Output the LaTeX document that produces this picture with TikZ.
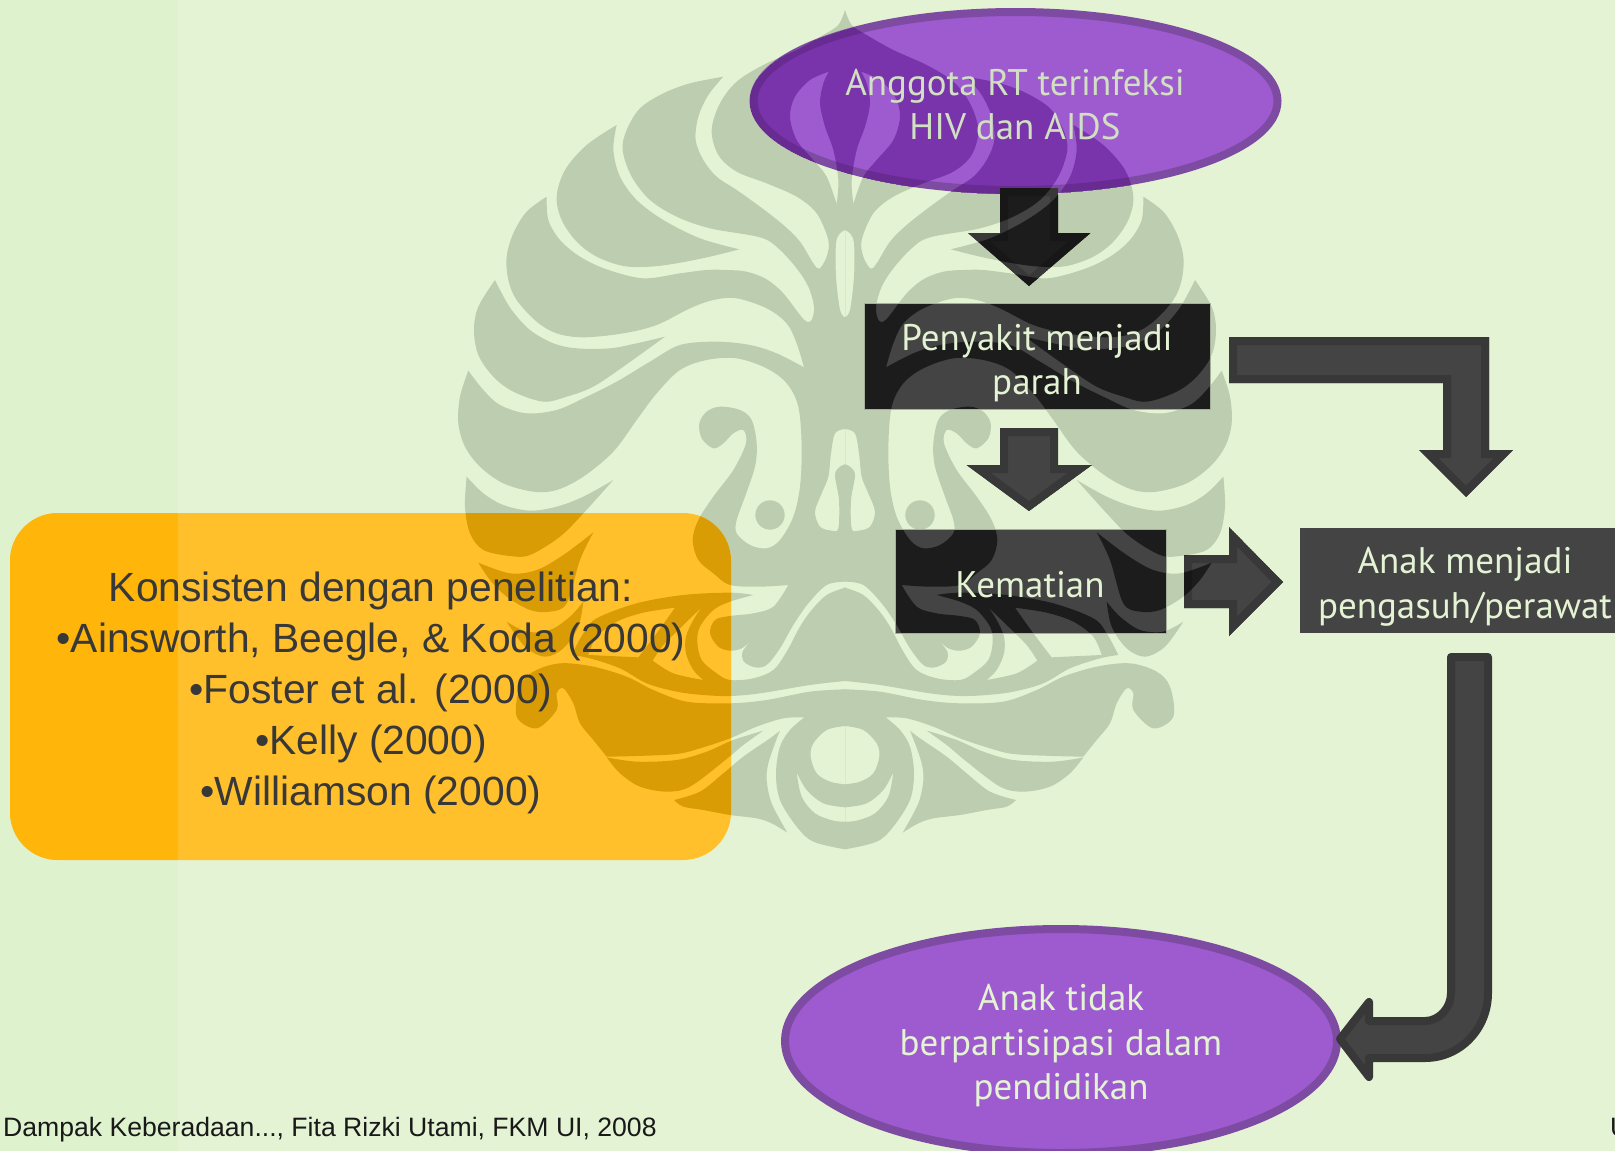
\documentclass[tikz,border=0pt]{standalone}
\usepackage{fontspec}
\setmainfont{Liberation Sans}
\newfontfamily\dgfont{PT Sans}
\definecolor{bgmain}{HTML}{E3F3D3}
\definecolor{bgstrip}{HTML}{DEF2CE}
\definecolor{logoc}{HTML}{BCCEAF}
\definecolor{orangec}{HTML}{FFC02C}
\definecolor{orangel}{HTML}{FFB50A}
\definecolor{orangelogo}{HTML}{D99C05}
\definecolor{purplec}{HTML}{9E5BD0}
\definecolor{purpleb}{HTML}{7E4BA3}
\definecolor{purplelogo}{RGB}{72,0,122}
\definecolor{boxc}{HTML}{444444}
\definecolor{boxlogo}{HTML}{1C1C1C}
\definecolor{arrowb}{HTML}{383838}
\definecolor{lighttext}{HTML}{E3F3D3}
\definecolor{refsink}{HTML}{383838}
\tikzset{
  smoothseg/.style={smooth,tension=.55},
  dgtext/.style={align=center,text=lighttext,inner sep=0pt,
    font=\dgfont\fontsize{37}{44.5}\selectfont},
  refstext/.style={align=center,text=refsink,inner sep=0pt,
    font=\fontsize{40.8}{51.2}\selectfont},
  foottext/.style={anchor=base west,inner sep=0pt,text=black!90,
    font=\fontsize{26.6}{30}\selectfont},
  boxshape/.style={fill=boxc},
  boxedge/.style={draw=logoc!60!gray,line width=.6pt},
  ovalshape/.style={fill=purplec,draw=purpleb,line width=8pt},
}
\def\logopath{
 plot[smoothseg] coordinates {(1185,30)(1165,75)(1120,105)(1040,150)(940,195)(860,245)(810,310)(785,390)(805,465)(860,515)(950,550)(1040,590)(1100,640)(1135,720)(1130,770)(1108,806)(1090,790)(1050,725)(1000,675)(930,620)(860,570)(800,530)(760,480)(737,420)(745,350)(775,285)(820,230)}
 -- plot[smoothseg] coordinates {(820,230)(720,250)(640,280)(570,325)(530,390)(518,450)(545,530)(600,600)(680,650)(780,685)(930,712)(985,745)(1040,805)(1075,860)(1092,920)(1085,960)(1070,965)(1050,945)(1000,880)(950,838)(890,815)(830,810)(770,810)(690,820)(580,835)(470,808)(390,770)(330,720)(295,660)(290,590)}
 -- plot[smoothseg] coordinates {(290,590)(230,635)(190,700)(170,770)(175,840)(200,900)(260,965)(320,1000)(400,1012)(520,1000)(620,975)(720,925)(790,900)(860,895)(950,925)(1010,970)(1040,1030)(1062,1102)}
 -- plot[smoothseg] coordinates {(1062,1102)(980,1060)(900,1035)(800,1025)(690,1035)(600,1085)(500,1145)(400,1195)(320,1230)(230,1240)(150,1215)(100,1170)(55,1112)}
 -- plot[smoothseg] coordinates {(55,1112)(30,1190)(25,1270)(45,1340)(90,1400)(160,1450)(250,1475)(320,1470)(400,1430)(490,1355)(560,1260)(620,1180)(690,1110)(770,1080)(860,1075)(950,1105)(1010,1150)(1045,1220)(1055,1340)(1050,1460)(1030,1550)(990,1620)(950,1645)(900,1635)(860,1600)(860,1560)(885,1490)(915,1400)(920,1330)(905,1260)(870,1230)(810,1220)(770,1235)(748,1270)(755,1315)(790,1345)(820,1330)(850,1300)(880,1290)(888,1330)(850,1410)(790,1490)(745,1560)(728,1620)(745,1680)(790,1720)(840,1755)(930,1760)(1015,1755)}
 -- plot[smoothseg] coordinates {(1015,1755)(970,1820)(910,1840)(840,1848)(795,1860)(780,1900)(805,1940)(840,1952)(875,1945)(905,1920)}
 -- plot[smoothseg] coordinates {(905,1920)(878,1955)(882,1985)(915,2002)(950,1995)(990,1945)(1030,1875)(1075,1810)(1130,1755)(1185,1745)}
 -- cycle
 plot[smoothseg] coordinates {(1137,215)(1080,240)(1035,290)(1020,350)(1040,420)(1090,480)(1130,530)(1160,612)}
 -- plot[smoothseg] coordinates {(1160,612)(1165,540)(1150,450)(1125,380)(1110,310)(1120,250)(1137,215)} -- cycle
 plot[smoothseg] coordinates {(1185,690)(1170,700)(1158,730)(1158,830)(1170,930)(1185,952)} -- cycle
 plot[smoothseg] coordinates {(1185,1287)(1155,1300)(1143,1360)(1135,1430)(1115,1480)(1095,1535)(1110,1580)(1145,1592)(1165,1585)(1167,1500)(1155,1425)(1170,1400)(1185,1393)} -- cycle
 plot[smoothseg] coordinates {(500,375)(490,450)(510,530)(560,600)(640,660)(750,715)(868,748)}
 -- plot[smoothseg] coordinates {(868,748)(780,770)(680,790)(600,800)(520,798)(440,770)(380,725)(335,660)(320,590)(345,510)(410,435)(500,375)} -- cycle
 plot[smoothseg] coordinates {(135,840)(85,920)(72,990)(85,1065)(130,1130)(190,1175)(280,1205)(350,1190)(430,1160)(520,1100)(645,1010)}
 -- plot[smoothseg] coordinates {(645,1010)(560,1030)(480,1045)(380,1045)(310,1030)(240,990)(185,930)(150,870)(135,840)} -- cycle
 plot[smoothseg] coordinates {(50,1430)(45,1520)(60,1600)(100,1650)(180,1668)(240,1665)(330,1610)(400,1540)(490,1440)}
 -- plot[smoothseg] coordinates {(490,1440)(400,1490)(320,1520)(240,1532)(160,1515)(100,1480)(50,1430)} -- cycle
 plot[smoothseg] coordinates {(85,1688)(180,1720)(260,1710)(340,1665)(430,1597)}
 -- plot[smoothseg] coordinates {(430,1597)(390,1680)(350,1810)(300,1835)(240,1830)(170,1790)(120,1740)(85,1688)} -- cycle
 plot[smoothseg] coordinates {(170,1865)(230,1895)(300,1890)(360,1850)(400,1805)}
 -- plot[smoothseg] coordinates {(400,1805)(385,1880)(340,1945)(285,1970)(225,1940)(170,1865)} -- cycle
 (960,1545) circle [radius=44]
 plot[smoothseg] coordinates {(1185,1763)(1130,1785)(1085,1830)(1050,1880)(1010,1955)(970,2010)(910,2035)(840,2040)(800,2020)(755,1980)(742,1925)(750,1880)(790,1830)(840,1805)(910,1785)}
 -- plot[smoothseg] coordinates {(910,1785)(840,1778)(700,1785)(560,1810)(440,1855)(400,1900)(365,1965)}
 -- plot[smoothseg] coordinates {(365,1965)(420,1975)(510,2005)(590,2050)(680,2075)(760,2085)(840,2088)(930,2080)(1080,2055)(1185,2043)} -- cycle
 plot[smoothseg] coordinates {(675,1823)(580,1838)(500,1865)(440,1910)(415,1965)}
 -- plot[smoothseg] coordinates {(415,1965)(565,1972)}
 -- plot[smoothseg] coordinates {(565,1972)(620,1900)(675,1823)} -- cycle
 plot[smoothseg] coordinates {(755,1822)(700,1875)(640,1935)(608,1982)}
 -- plot[smoothseg] coordinates {(608,1982)(670,2020)(760,2040)}
 -- plot[smoothseg] coordinates {(760,2040)(730,2010)(708,1960)(708,1910)(730,1860)(755,1822)} -- cycle
 plot[smoothseg] coordinates {(1185,2068)(1080,2075)(950,2100)(840,2110)(710,2105)(610,2070)(530,2030)(430,2000)(330,1990)(250,2015)(210,2060)(200,2150)(260,2185)(320,2130)(320,2080)(340,2065)(370,2110)(390,2170)(430,2220)(470,2270)}
 -- plot[smoothseg] coordinates {(470,2270)(560,2268)(680,2262)(750,2245)(840,2215)(920,2180)(1000,2155)(1063,2152)}
 -- plot[smoothseg] coordinates {(1063,2152)(1020,2190)(990,2240)(978,2320)(990,2400)(1040,2480)(1090,2525)(1185,2548)} -- cycle
 plot[smoothseg] coordinates {(1185,2178)(1130,2190)(1090,2230)(1082,2270)(1100,2320)(1140,2345)(1185,2353)} -- cycle
 plot[smoothseg] coordinates {(1040,2317)(1070,2370)(1120,2410)(1185,2422)}
 -- plot[smoothseg] coordinates {(1185,2465)(1150,2462)(1095,2440)(1055,2390)(1040,2317)} -- cycle
 plot[smoothseg] coordinates {(470,2272)(560,2285)(680,2280)(770,2255)(850,2220)(940,2192)}
 -- plot[smoothseg] coordinates {(940,2192)(880,2235)(820,2285)(720,2360)(650,2375)(570,2360)(510,2320)(470,2272)} -- cycle
 plot[smoothseg] coordinates {(672,2400)(750,2375)(820,2320)(880,2270)(960,2215)(990,2192)}
 -- plot[smoothseg] coordinates {(990,2192)(975,2230)(955,2290)(950,2340)(965,2410)(1012,2498)}
 -- plot[smoothseg] coordinates {(1012,2498)(965,2470)(920,2455)(840,2445)(760,2430)(700,2420)(672,2400)} -- cycle
}
% thin strips that close the seam on the axis of symmetry where the emblem is solid
\def\logoseam{
 (1182,60) rectangle (1188,685)
 (1182,957) rectangle (1188,1282)
 (1182,1398) rectangle (1188,1745)
 (1182,1763) rectangle (1188,2043)
 (1182,2068) rectangle (1188,2175)
 (1182,2356) rectangle (1188,2420)
 (1182,2467) rectangle (1188,2545)
}
\newcommand\drawlogo[1]{%
  \fill[even odd rule,#1,x=.33333pt,y=-.33333pt,shift={(450pt,0pt)}] \logopath;
  \fill[even odd rule,#1,x=-.33333pt,y=-.33333pt,shift={(1240pt,0pt)}] \logopath;
  \fill[#1,x=.33333pt,y=-.33333pt,shift={(450pt,0pt)}] \logoseam;
}
\newcommand\blockarrow[1]{\begin{scope}\clip #1;\fill[boxc] #1;\draw[arrowb,line width=16pt,line join=miter] #1;\drawlogo{black,fill opacity=.59}\end{scope}}
\begin{document}
\begin{tikzpicture}[x=1pt,y=-1pt]
\useasboundingbox (0,0) rectangle (1615,1151);
\fill[bgmain] (0,0) rectangle (1615,1151);
\fill[bgstrip] (0,0) rectangle (178,1151);
\drawlogo{logoc}
% orange panel
\fill[orangec,rounded corners=48pt] (10,513) rectangle (731,860);
\begin{scope}\clip[rounded corners=48pt] (10,513) rectangle (731,860);
\fill[orangel] (10,513) rectangle (178,860);
\drawlogo{orangelogo}
\end{scope}
% ovals
\begin{scope}
\path[ovalshape] (1015.5,101) ellipse [x radius=262,y radius=89];
\clip (1015.5,101) ellipse [x radius=266,y radius=93];
\begin{scope}[transparency group,opacity=.42]
\drawlogo{purplelogo}
\end{scope}
\end{scope}
\path[ovalshape] (1061,1041) ellipse [x radius=276,y radius=112];
% boxes
\path[boxshape] (864,303) rectangle (1210,409);
\path[boxshape] (895,529) rectangle (1166.5,633.6);
\path[boxshape] (1300,528) rectangle (1625,633);
\begin{scope}\clip (864,303) rectangle (1210,409);\drawlogo{boxlogo}\end{scope}
\begin{scope}\clip (895,529) rectangle (1166.5,633.6);\drawlogo{boxlogo}\end{scope}
\draw[boxedge] (864,303) rectangle (1210,409);
\draw[boxedge] (895,529) rectangle (1166.5,633.6);
% block arrows
\blockarrow{(1000,188) -- (1058,188) -- (1058,233) -- (1090.5,233) -- (1029,286) -- (968,233) -- (1000,233) -- cycle}
\blockarrow{(1000,428) -- (1058,428) -- (1058,465) -- (1092,465) -- (1029,511) -- (966.5,465) -- (1000,465) -- cycle}
\blockarrow{(1184,555) -- (1229,555) -- (1229,527) -- (1283,582) -- (1229,636) -- (1229,608) -- (1184,608) -- cycle}
\blockarrow{(1229,337) -- (1489,337) -- (1489,450) -- (1513,450) -- (1466,497) -- (1419,450) -- (1443,450) -- (1443,383) -- (1229,383) -- cycle}
\draw[fill=boxc,draw=arrowb,line width=8pt,line join=round]
  (1451,657) -- (1488,657) -- (1488,993) .. controls (1488,1029) and (1460,1058) .. (1425,1058)
  -- (1369,1058) -- (1369,1077) -- (1340,1039) -- (1369,1002) -- (1369,1021) -- (1425,1021)
  .. controls (1439,1021) and (1451,1008) .. (1451,993) -- cycle;
% texts
\node[dgtext,text=lighttext!92!black] (anggota) at (1015,104.5) {Anggota RT terinfeksi\\HIV dan AIDS};
\node[dgtext] (penyakit) at (1037,363) {Penyakit menjadi\\parah};
\node[dgtext] (kematian) at (1030,585) {Kematian};
\node[dgtext] (anak) at (1465,587) {Anak menjadi\\pengasuh/perawat};
\node[dgtext] (tidak) at (1061,1046) {Anak tidak\\berpartisipasi dalam\\pendidikan};
\node[refstext] (refs) at (371,693) {Konsisten dengan penelitian:\\•Ainsworth, Beegle, \& Koda (2000)\\•Foster et al. (2000)\\•Kelly (2000)\\•Williamson (2000)};
\node[foottext] (foot) at (3,1136) {Dampak Keberadaan..., Fita Rizki Utami, FKM UI, 2008};
\node[foottext] (footu) at (1610,1136) {U};
\end{tikzpicture}
\end{document}
